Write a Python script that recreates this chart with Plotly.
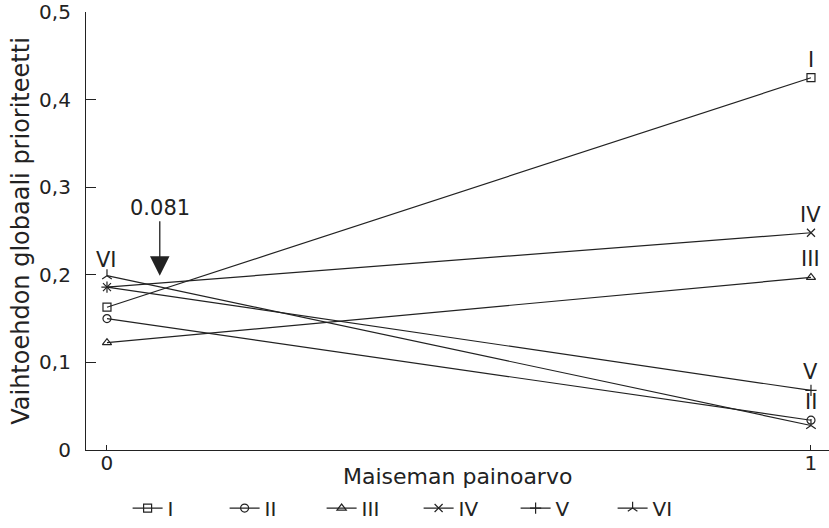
import plotly.graph_objects as go

# ---- data ----
X_VALUES = [0, 1]
SERIES_NAMES = ["I", "II", "III", "IV", "V", "VI"]
I_VALUES = [0.163, 0.425]
II_VALUES = [0.150, 0.034]
III_VALUES = [0.1225, 0.197]
IV_VALUES = [0.186, 0.248]
V_VALUES = [0.186, 0.068]
VI_VALUES = [0.199, 0.028]
Y_TICK_VALUES = [0, 0.1, 0.2, 0.3, 0.4, 0.5]
Y_TICK_LABELS = ["0", "0,1", "0,2", "0,3", "0,4", "0,5"]
X_TICK_VALUES = [0, 1]
X_TICK_LABELS = ["0", "1"]
CROSSOVER_X = 0.075
CROSSOVER_Y = 0.199
CROSSOVER_LABEL = "0.081"
X_TITLE = "Maiseman painoarvo"
Y_TITLE = "Vaihtoehdon globaali prioriteetti"

SERIES_VALUES = [I_VALUES, II_VALUES, III_VALUES, IV_VALUES, V_VALUES, VI_VALUES]
SYMBOLS = ["square-open", "circle-open", "triangle-up-open", "x-thin-open",
           "cross-thin-open", "y-up-open"]

INK = "#222222"
FONT = "DejaVu Sans, Liberation Sans, sans-serif"

fig = go.Figure()
for name, vals, sym in zip(SERIES_NAMES, SERIES_VALUES, SYMBOLS):
    fig.add_trace(go.Scatter(
        x=X_VALUES, y=vals, name=name, mode="lines+markers",
        line=dict(color=INK, width=1.2),
        marker=dict(symbol=sym, size=8, color=INK, line=dict(color=INK, width=1.2)),
    ))

# end labels
right_labels = {"I": I_VALUES[1], "IV": IV_VALUES[1], "III": III_VALUES[1],
                "V": V_VALUES[1], "II": II_VALUES[1]}
for txt, yv in right_labels.items():
    fig.add_annotation(x=X_VALUES[1], y=yv, text=txt, showarrow=False,
                       yshift=18, font=dict(size=21, color=INK, family=FONT))
fig.add_annotation(x=X_VALUES[0], y=VI_VALUES[0], text="VI", showarrow=False,
                   yshift=16, font=dict(size=21, color=INK, family=FONT))

# crossover arrow
fig.add_annotation(x=CROSSOVER_X, y=CROSSOVER_Y, text=CROSSOVER_LABEL,
                   showarrow=True, ax=0, ay=-68, arrowhead=2, arrowsize=3,
                   arrowwidth=1.3, arrowcolor=INK,
                   font=dict(size=21, color=INK, family=FONT))

# x-axis title as text placed just under the tick labels
fig.add_annotation(x=0.5, y=0, xref="paper", yref="paper", text=X_TITLE,
                   showarrow=False, yanchor="middle", yshift=-26,
                   font=dict(size=22, color=INK, family=FONT))

fig.update_layout(
    width=829, height=528,
    margin=dict(l=86, r=0, t=12, b=78),
    paper_bgcolor="white", plot_bgcolor="white",
    font=dict(family=FONT, color=INK, size=20),
    showlegend=True,
    legend=dict(orientation="h", x=0.056, y=-0.177, xanchor="left", yanchor="bottom",
                entrywidth=52, entrywidthmode="pixels",
                font=dict(size=20, color=INK, family=FONT),
                bgcolor="rgba(0,0,0,0)"),
)
fig.update_xaxes(
    range=[-0.0298, 1.0256], tickvals=X_TICK_VALUES, ticktext=X_TICK_LABELS,
    showline=True, linecolor=INK, linewidth=1.2, showgrid=False, zeroline=False,
    ticks="inside", ticklen=5, tickcolor=INK, tickwidth=1.2, automargin=False,
    ticklabelstandoff=-5, ticklabeloverflow="allow",
    tickfont=dict(size=20),
)
fig.update_yaxes(
    range=[0, 0.5], tickvals=Y_TICK_VALUES, ticktext=Y_TICK_LABELS,
    showline=True, linecolor=INK, linewidth=1.2, showgrid=False, zeroline=False,
    ticks="inside", ticklen=10, tickcolor=INK, tickwidth=1.2, automargin=False,
    ticklabelstandoff=10, ticklabeloverflow="allow",
    tickfont=dict(size=20), title=dict(text=Y_TITLE, font=dict(size=24), standoff=2),
)

fig.write_html(
    "out.html", config={"displayModeBar": False},
    post_script="document.body.style.margin='0';document.body.style.overflow='hidden';",
)
